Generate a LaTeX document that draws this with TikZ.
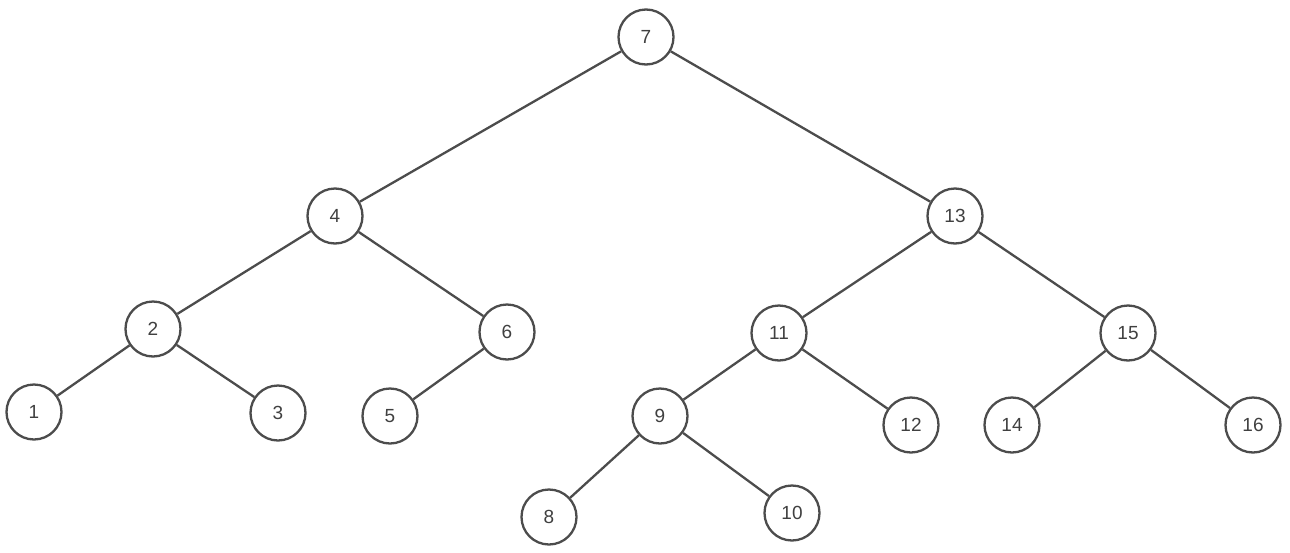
\documentclass[tikz,border=0pt]{standalone}
\usepackage{fontspec}
\setmainfont{Liberation Sans}
\begin{document}
\begin{tikzpicture}[x=1pt,y=-1pt,
  tn/.style={circle,draw=black!70,line width=2.3pt,minimum size=55pt,inner sep=0pt,fill=white,font=\fontsize{19}{19}\selectfont,text=black!75},
  ed/.style={draw=black!70,line width=2.3pt}]
\useasboundingbox (0,0) rectangle (1290,552);
\node[tn] (n7) at (646,37) {7};
\node[tn] (n4) at (335,216) {4};
\node[tn] (n13) at (955,216) {13};
\node[tn] (n2) at (153,329) {2};
\node[tn] (n6) at (507,332) {6};
\node[tn] (n11) at (779,333) {11};
\node[tn] (n15) at (1128,333) {15};
\node[tn] (n1) at (34,412) {1};
\node[tn] (n3) at (278,413) {3};
\node[tn] (n5) at (390,416) {5};
\node[tn] (n9) at (660,416) {9};
\node[tn] (n12) at (911,425) {12};
\node[tn] (n14) at (1012,425) {14};
\node[tn] (n16) at (1253,425) {16};
\node[tn] (n8) at (549,517) {8};
\node[tn] (n10) at (792,513) {10};
\foreach \a/\b in {n7/n4,n7/n13,n4/n2,n4/n6,n2/n1,n2/n3,n6/n5,n13/n11,n13/n15,n11/n9,n11/n12,n9/n8,n9/n10,n15/n14,n15/n16}
  \draw[ed] (\a) -- (\b);
\end{tikzpicture}
\end{document}
